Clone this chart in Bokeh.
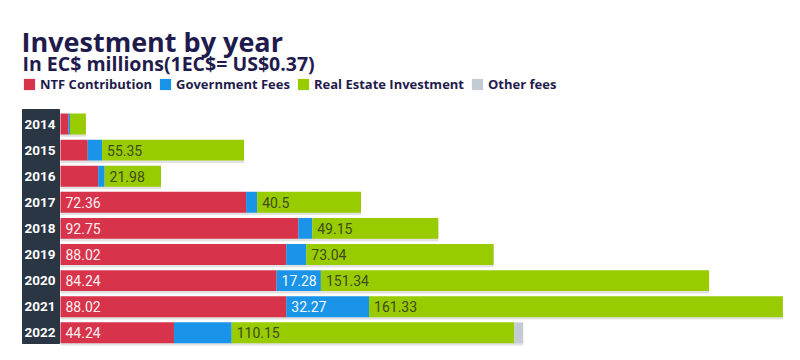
from bokeh.plotting import figure
from bokeh.models import Range1d, Legend, LegendItem, Label, ColumnDataSource
from bokeh.transform import dodge
from bokeh.embed import file_html
from bokeh.resources import INLINE
from bokeh.core.properties import value

# ---------------- data ----------------
years = ["2014", "2015", "2016", "2017", "2018", "2019", "2020", "2021", "2022"]
ntf = [3.1, 10.6, 14.7, 72.36, 92.75, 88.02, 84.24, 88.02, 44.24]
gov = [0.6, 5.6, 2.5, 4.3, 5.4, 7.8, 17.28, 32.27, 22.5]
real = [6.2, 55.35, 21.98, 40.5, 49.15, 73.04, 151.34, 161.33, 110.15]
other = [0.0, 0.0, 0.0, 0.0, 0.0, 0.0, 0.0, 0.0, 3.5]
# value labels printed on the bars ("" = no label shown)
ntf_labels = ["", "", "", "72.36", "92.75", "88.02", "84.24", "88.02", "44.24"]
gov_labels = ["", "", "", "", "", "", "17.28", "32.27", ""]
real_labels = ["", "55.35", "21.98", "40.5", "49.15", "73.04", "151.34", "161.33", "110.15"]
series_names = ["NTF Contribution", "Government Fees", "Real Estate Investment", "Other fees"]

# ---------------- style ----------------
colors = ["#d7334a", "#1a94e8", "#98cb00", "#c3ccd4"]
navy = "#1f1c4d"
W, H = 800, 360
FONT = "Open Sans"

rows = list(range(len(years)))
totals = [a + b + c + d for a, b, c, d in zip(ntf, gov, real, other)]
src = ColumnDataSource(dict(row=rows, year=years, ntf=ntf, gov=gov, real=real,
                            other=other, total=totals))

p = figure(width=W, height=H, output_backend="svg", toolbar_location=None,
           x_range=Range1d(-23.39, 288.5), y_range=Range1d(9.061, -4.732),
           x_axis_location=None, y_axis_location=None, min_border=0,
           outline_line_color=None, background_fill_color="white",
           border_fill_color="white")
p.grid.visible = False
p.extra_x_ranges = {"px": Range1d(0, W)}
p.extra_y_ranges = {"px": Range1d(H, 0)}

# dark year column
p.quad(left=[22], right=[59], top=[109], bottom=[343],
       x_range_name="px", y_range_name="px", color="#2b3644")

# soft shadow under bars
p.hbar(y=dodge("row", 0.09, range=p.y_range), left=0, right="total", height=0.8,
       source=src, fill_color="#bfbfbf", fill_alpha=0.45, line_color=None)

renderers = p.hbar_stack(["ntf", "gov", "real", "other"], y="row", height=0.8,
                         fill_color=colors, line_color=None, source=src)

# year labels
p.text(x=0, y="row", text="year", source=src, x_offset=-5, text_align="right",
       text_baseline="middle", text_color="white", text_font=value("Roboto"),
       text_font_size="13.5px", text_font_style="bold")

# value labels inside segments
lx, ly, lt, lc = [], [], [], []
for i in rows:
    starts = [0, ntf[i], ntf[i] + gov[i]]
    texts = [ntf_labels[i], gov_labels[i], real_labels[i]]
    cols = ["#fdf0f2", "#f4faff", "#3e4c1c"]
    for s, t, c in zip(starts, texts, cols):
        if t:
            lx.append(s); ly.append(i); lt.append(t); lc.append(c)
lab = ColumnDataSource(dict(x=lx, y=ly, t=lt, c=lc))
p.text(x="x", y="y", text="t", text_color="c", source=lab, x_offset=5,
       text_baseline="middle", text_font=value("Roboto"), text_font_size="14px")

# legend
items = [LegendItem(label=n, renderers=[r]) for n, r in zip(series_names, renderers)]
legend = Legend(items=items, orientation="horizontal", location=(22, 267),
                glyph_width=14, glyph_height=14, label_standoff=4, spacing=6,
                padding=0, margin=0, border_line_color=None, background_fill_alpha=0,
                label_text_font=FONT, label_text_font_size="13px",
                label_text_font_style="bold", label_text_color=navy)
p.add_layout(legend)

# titles
p.add_layout(Label(x=21, y=41, x_range_name="px", y_range_name="px",
                   text="Investment by year", text_font=FONT, text_font_size="27px",
                   text_font_style="bold", text_color=navy, text_baseline="alphabetic"))
p.add_layout(Label(x=22, y=63, x_range_name="px", y_range_name="px",
                   text="In EC$ millions(1EC$= US$0.37)", text_font=FONT,
                   text_font_size="19.5px", text_font_style="bold", text_color=navy,
                   text_baseline="alphabetic"))

open("out.html", "w").write(file_html(p, INLINE))
